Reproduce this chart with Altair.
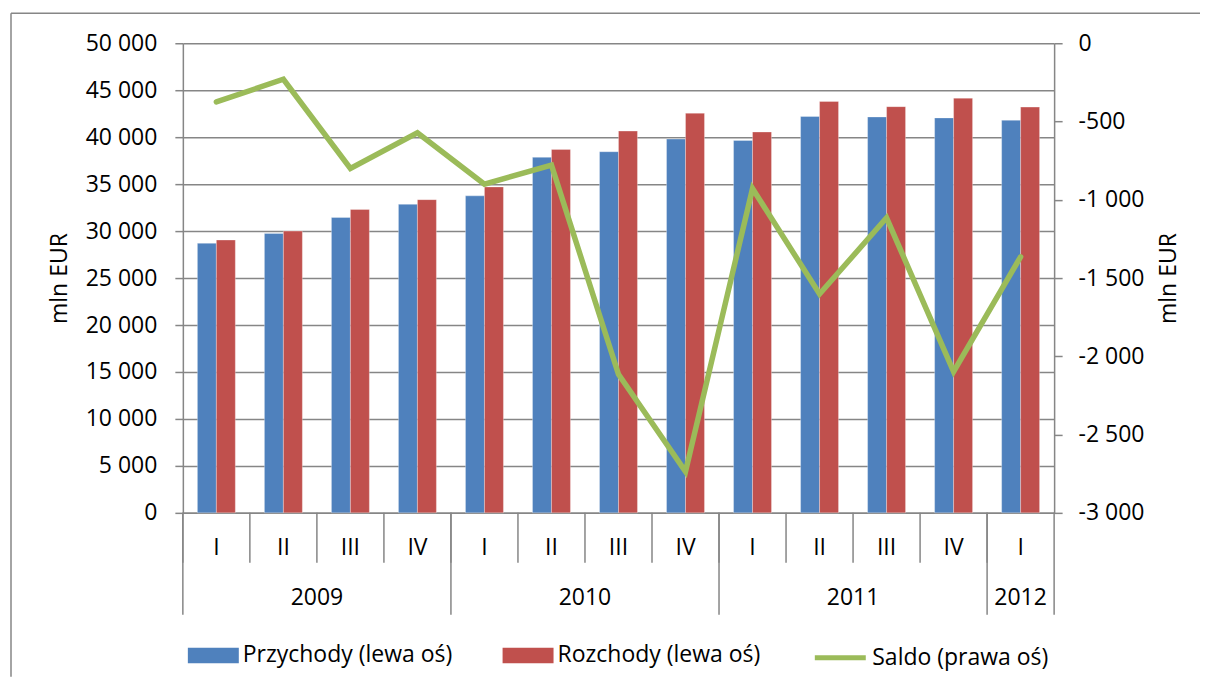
import altair as alt
import pandas as pd

# ---- data ----
years = ["2009"] * 4 + ["2010"] * 4 + ["2011"] * 4 + ["2012"]
quarters = ["I", "II", "III", "IV"] * 3 + ["I"]
przychody = [28700, 29750, 31450, 32850, 33750, 37850, 38450, 39800, 39650, 42200, 42150, 42050, 41800]
rozchody = [29050, 30000, 32300, 33350, 34700, 38700, 40650, 42550, 40550, 43800, 43250, 44150, 43200]
saldo = [-375, -230, -800, -572, -900, -779, -2115, -2736, -928, -1602, -1115, -2098, -1364]
series_names = ["Przychody (lewa oś)", "Rozchody (lewa oś)"]
line_name = "Saldo (prawa oś)"
year_labels = ["2009", "2010", "2011", "2012"]
left_ticks = list(range(0, 50001, 5000))
right_ticks = list(range(-3000, 1, 500))

# ---- style ----
bar_colors = ["#4F81BD", "#C0504D"]
line_color = "#9BBB59"
GREY = "#868686"
FONT = "Open Sans"
FS = 23
W, H = 872, 470

cats = [f"{y} {q}" for y, q in zip(years, quarters)]

bars_df = pd.DataFrame({
    "cat": cats * 2,
    "series": [series_names[0]] * len(cats) + [series_names[1]] * len(cats),
    "value": przychody + rozchody,
})
line_df = pd.DataFrame({"cat": cats, "saldo": saldo, "name": [line_name] * len(cats)})

year_rows = []
for yl in year_labels:
    qs = [c for c, y in zip(cats, years) if y == yl]
    n = len(qs)
    if n % 2 == 0:
        anchor, even = qs[n // 2 - 1], True
    else:
        anchor, even = qs[n // 2], False
    year_rows.append(dict(year=yl, anchor=anchor, even=even, first=qs[0], last=qs[-1]))
year_df = pd.DataFrame(year_rows)
year_even = year_df[year_df["even"]]
year_odd = year_df[~year_df["even"]]
cat_df = pd.DataFrame({"cat": cats, "quarter": quarters})
end_df = pd.DataFrame({"cat": [cats[-1]]})

x_scale = alt.Scale(domain=cats, paddingInner=0, paddingOuter=0)
x_axis = alt.Axis(labels=False, ticks=False, domainColor=GREY, domainWidth=1.5, grid=False)


def X(field, **kw):
    return alt.X(f"{field}:N", scale=x_scale, axis=x_axis, title=None, **kw)


def num_expr():
    return "(datum.value < 0 ? '-' : '') + replace(format(abs(datum.value), ','), ',', ' ')"


bars = alt.Chart(bars_df).mark_bar(stroke="white", strokeWidth=0.6, strokeOpacity=0.5).encode(
    x=X("cat"),
    xOffset=alt.XOffset("series:N", sort=series_names,
                        scale=alt.Scale(domain=series_names, paddingInner=0, paddingOuter=0.766)),
    y=alt.Y("value:Q", title="mln EUR",
            scale=alt.Scale(domain=[0, 50000], nice=False),
            axis=alt.Axis(orient="left", values=left_ticks, labelExpr=num_expr(),
                          grid=True, gridColor=GREY, gridWidth=1.5,
                          tickSize=8, tickColor=GREY, tickWidth=1.5,
                          domainColor=GREY, domainWidth=1.5,
                          labelPadding=18, labelFont=FONT, labelFontSize=FS, labelColor="black",
                          titleFont=FONT, titleFontSize=FS, titleFontWeight="normal",
                          titleColor="black", titlePadding=14)),
    color=alt.Color("series:N", sort=series_names,
                    scale=alt.Scale(domain=series_names, range=bar_colors),
                    legend=alt.Legend(orient="none", legendX=5, legendY=587, direction="horizontal",
                                      title=None, symbolType="M-1,-0.3H1V0.3H-1Z", symbolSize=2601,
                                      symbolStrokeWidth=0, labelFont=FONT, labelFontSize=FS,
                                      labelColor="black", columnPadding=50, labelOffset=4,
                                      padding=0, labelLimit=400)),
)

line = alt.Chart(line_df).mark_line(strokeWidth=5.5, strokeCap="round", strokeJoin="miter").encode(
    x=X("cat"),
    y=alt.Y("saldo:Q", title="mln EUR",
            scale=alt.Scale(domain=[-3000, 0], nice=False),
            axis=alt.Axis(orient="right", values=right_ticks, labelExpr=num_expr(),
                          grid=False, tickSize=8, tickColor=GREY, tickWidth=1.5,
                          domainColor=GREY, domainWidth=1.5,
                          labelPadding=16, labelFont=FONT, labelFontSize=FS, labelColor="black",
                          titleFont=FONT, titleFontSize=FS, titleFontWeight="normal",
                          titleColor="black", titlePadding=14, titleAngle=270,
                          titleBaseline="top")),
    stroke=alt.Stroke("name:N", scale=alt.Scale(domain=[line_name], range=[line_color]),
                      legend=alt.Legend(orient="none", legendX=630, legendY=587, direction="horizontal",
                                        title=None, symbolType="stroke", symbolSize=2601,
                                        symbolStrokeWidth=5, labelFont=FONT, labelFontSize=FS,
                                        labelColor="black", labelOffset=4, padding=0, labelLimit=400)),
)

quarter_sep = alt.Chart(cat_df).mark_rule(color=GREY, strokeWidth=1.5).encode(
    x=X("cat", bandPosition=0), y=alt.value(H), y2=alt.value(H + 50))
year_sep = alt.Chart(year_df).mark_rule(color=GREY, strokeWidth=1.5).encode(
    x=X("first", bandPosition=0), y=alt.value(H), y2=alt.value(H + 102))
end_sep = alt.Chart(end_df).mark_rule(color=GREY, strokeWidth=1.5).encode(
    x=X("cat", bandPosition=1), y=alt.value(H), y2=alt.value(H + 102))

text_style = dict(font=FONT, fontSize=FS, color="black", align="center", baseline="middle")
quarter_text = alt.Chart(cat_df).mark_text(**text_style).encode(
    x=X("cat"), y=alt.value(H + 35), text="quarter:N")
year_text_even = alt.Chart(year_even).mark_text(**text_style).encode(
    x=X("anchor", bandPosition=1), y=alt.value(H + 85), text="year:N")
year_text_odd = alt.Chart(year_odd).mark_text(**text_style).encode(
    x=X("anchor", bandPosition=0.5), y=alt.value(H + 85), text="year:N")

one = pd.DataFrame({"f": [0]})
frame_top = alt.Chart(one).mark_rule(color=GREY, strokeWidth=1.5).encode(
    x=alt.value(-172), x2=alt.value(1018), y=alt.value(-30))
frame_left = alt.Chart(one).mark_rule(color=GREY, strokeWidth=1.5).encode(
    x=alt.value(-172), y=alt.value(-30), y2=alt.value(634))

chart = alt.layer(
    bars, line, quarter_sep, year_sep, end_sep, quarter_text, year_text_even, year_text_odd,
    frame_top, frame_left
).resolve_scale(y="independent").properties(
    width=W, height=H,
    padding={"left": 2, "top": 4, "right": 0, "bottom": 0},
).configure(font=FONT).configure_axis(
    labelFont=FONT, titleFont=FONT
).configure_legend(labelFont=FONT).configure_view(strokeWidth=0)

chart.save("out.html", embed_options={"renderer": "svg", "actions": False})
